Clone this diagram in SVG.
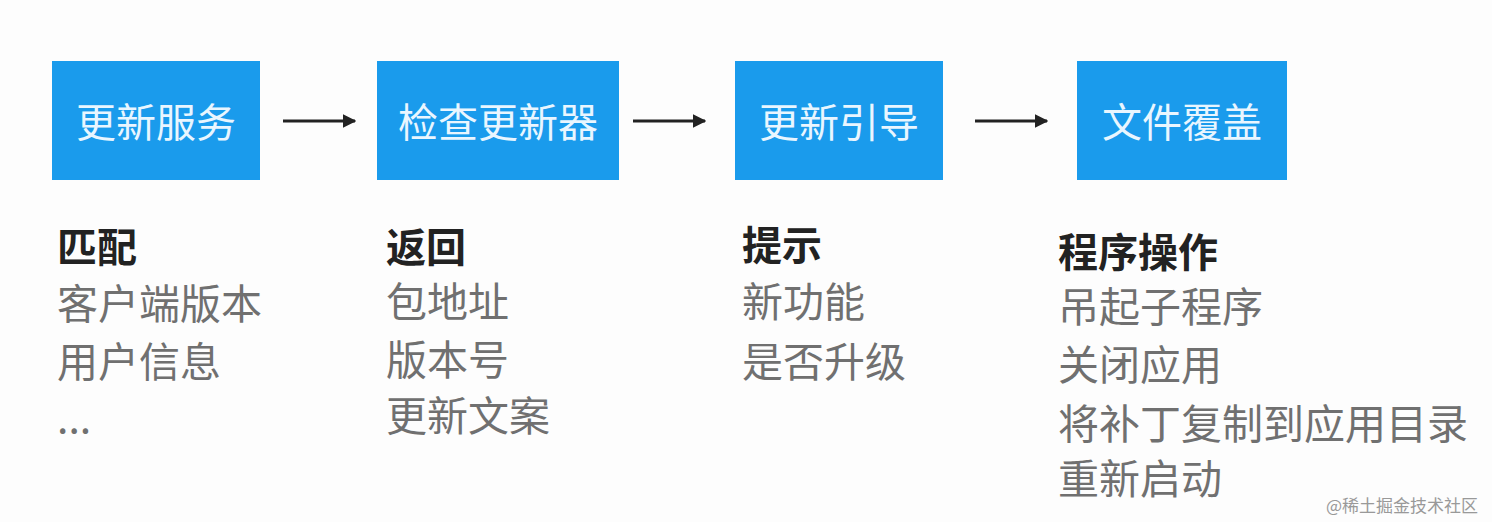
<svg xmlns="http://www.w3.org/2000/svg" width="1492" height="522" viewBox="0 0 1492 522">
<style>
.box{fill:#1a9bec;}
.bt{font-family:"Noto Sans CJK SC","Noto Sans",sans-serif;font-size:40px;fill:#e9f6ff;text-anchor:middle;}
.h{font-family:"Noto Sans CJK SC","Noto Sans",sans-serif;font-size:40px;font-weight:bold;fill:#222;}
.t{font-family:"Noto Sans CJK SC","Noto Sans",sans-serif;font-size:41px;fill:#707070;}
.wm{font-family:"Noto Sans CJK SC",serif;font-size:17px;fill:#999;}
.conn{stroke:#222;stroke-width:3;fill:none;}
</style>
<defs>
<marker id="ah" viewBox="0 0 10 10" refX="9" refY="5" markerWidth="4.5" markerHeight="4.5" orient="auto" markerUnits="strokeWidth">
<path d="M0,0 L10,5 L0,10 z" fill="#222"/>
</marker>
</defs>
<rect width="1492" height="522" fill="#fdfdfd"/>
<g id="node1">
<rect class="box" x="52" y="61" width="208" height="119"/>
<text class="bt" x="156" y="137">更新服务</text>
</g>
<g id="node2">
<rect class="box" x="377" y="61" width="242" height="119"/>
<text class="bt" x="498" y="137">检查更新器</text>
</g>
<g id="node3">
<rect class="box" x="735" y="61" width="208" height="119"/>
<text class="bt" x="839" y="137">更新引导</text>
</g>
<g id="node4">
<rect class="box" x="1077" y="61" width="210" height="119"/>
<text class="bt" x="1182" y="137">文件覆盖</text>
</g>
<g id="connectors">
<line class="conn" x1="283" y1="121" x2="355" y2="121" marker-end="url(#ah)"/>
<line class="conn" x1="633" y1="121" x2="705" y2="121" marker-end="url(#ah)"/>
<line class="conn" x1="975" y1="121" x2="1047" y2="121" marker-end="url(#ah)"/>
</g>
<g id="col1">
<text class="h" x="57" y="262">匹配</text>
<text class="t" x="57" y="319">客户端版本</text>
<text class="t" x="57" y="377">用户信息</text>
<text class="t" x="57" y="433">...</text>
</g>
<g id="col2">
<text class="h" x="386" y="262">返回</text>
<text class="t" x="386" y="317">包地址</text>
<text class="t" x="386" y="375">版本号</text>
<text class="t" x="386" y="431">更新文案</text>
</g>
<g id="col3">
<text class="h" x="742" y="260">提示</text>
<text class="t" x="742" y="317">新功能</text>
<text class="t" x="742" y="377">是否升级</text>
</g>
<g id="col4">
<text class="h" x="1058" y="267">程序操作</text>
<text class="t" x="1058" y="322">吊起子程序</text>
<text class="t" x="1058" y="380">关闭应用</text>
<text class="t" x="1058" y="439">将补丁复制到应用目录</text>
<text class="t" x="1058" y="494">重新启动</text>
</g>
<text class="wm" x="1326" y="512">@稀土掘金技术社区</text>
</svg>
